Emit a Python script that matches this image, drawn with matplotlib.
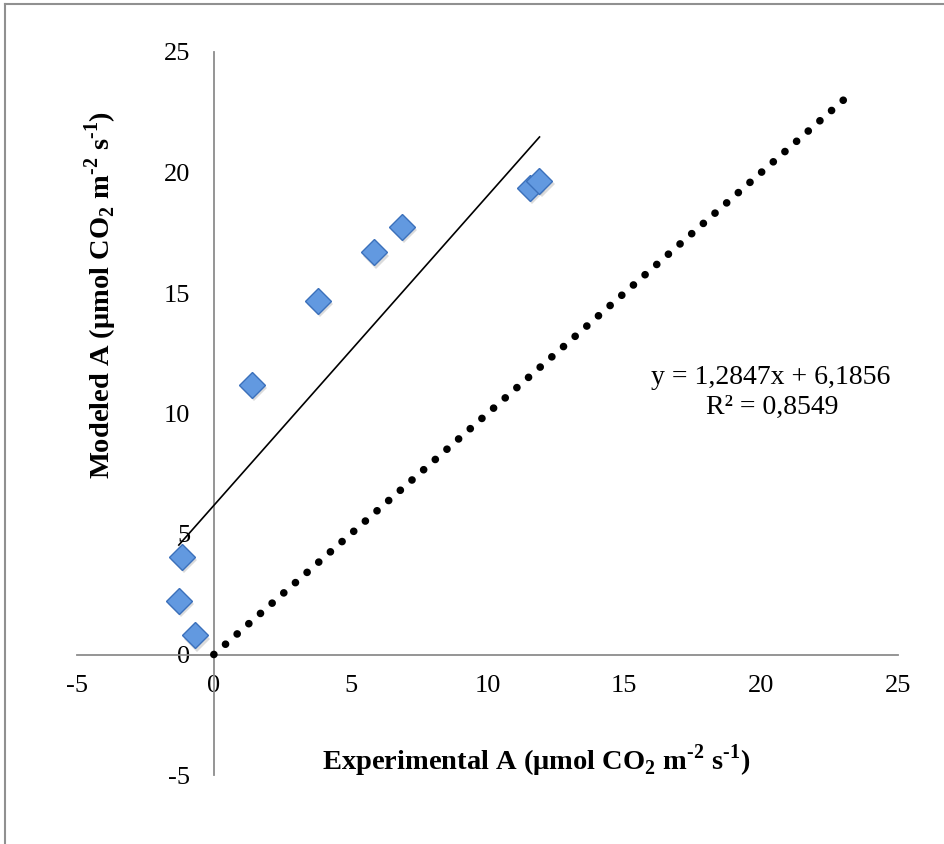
# Modeled vs experimental net assimilation, Excel-style scatter with trend line and 1:1 line

import numpy as np
import matplotlib.pyplot as plt
from matplotlib.lines import Line2D
from matplotlib.transforms import offset_copy

# Data
experimental_a = [-1.17, -1.28, -0.69, 1.39, 3.80, 5.85, 6.87, 11.55, 11.90]
modeled_a = [4.06, 2.24, 0.79, 11.19, 14.68, 16.70, 17.74, 19.36, 19.65]

# Linear fit reported on the chart
slope = 1.2847
intercept = 6.1856
r_squared = 0.8549

# 1:1 reference line ends
one_to_one = [0, 23]

ticks = [-5, 0, 5, 10, 15, 20, 25]

plt.rcParams['font.family'] = ['Liberation Serif', 'DejaVu Serif']
plt.rcParams['mathtext.fontset'] = 'custom'
plt.rcParams['mathtext.rm'] = 'Liberation Serif'
plt.rcParams['mathtext.bf'] = 'Liberation Serif:bold'

W, H = 945, 844
fig = plt.figure(figsize=(W / 100, H / 100), dpi=100)
ax = fig.add_axes([77 / W, (H - 775) / H, (898 - 77) / W, (775 - 52) / H])

axis_grey = '#8c8c8c'

# 1:1 dotted line
ax.plot(one_to_one, one_to_one, color='black', linewidth=5.5,
        linestyle=(0, (0.01, 2.023)), dash_capstyle='round', zorder=5)

# trend line over data range
x_fit = np.array([min(experimental_a), max(experimental_a)])
ax.plot(x_fit, slope * x_fit + intercept, color='black', linewidth=1.2, zorder=3)

# marker shadow + markers
shadow = offset_copy(ax.transData, fig=fig, x=1.5, y=-2.5, units='points')
ax.plot(experimental_a, modeled_a, 'D', markersize=13.5, color='#999999',
        alpha=0.35, markeredgewidth=0, transform=shadow, zorder=3)
ax.plot(experimental_a, modeled_a, 'D', markersize=13.5,
        markerfacecolor='#6299e0', markeredgecolor='#3b70bb',
        markeredgewidth=1.0, linestyle='none', zorder=4)

ax.set_xlim(-5, 25)
ax.set_ylim(-5, 25)

for side in ['top', 'right']:
    ax.spines[side].set_visible(False)
for side in ['left', 'bottom']:
    ax.spines[side].set_position(('data', 0))
    ax.spines[side].set_color(axis_grey)
    ax.spines[side].set_linewidth(1.3)

ax.set_xticks(ticks)
ax.set_yticks(ticks)
ax.set_xticklabels([str(t) for t in ticks])
ax.set_yticklabels([str(t) for t in ticks])
ax.set_xticks([-5, 25], minor=True)
ax.set_yticks([-5, 25], minor=True)
ax.tick_params(axis='x', which='major', length=0, pad=15, labelsize=19)
ax.tick_params(axis='y', which='major', length=0, pad=17, labelsize=19)
ax.tick_params(which='minor', length=6, width=1.3, color=axis_grey, direction='out')

hy = '\u2010'
unit = ('($\\mathbf{\\mu}$mol CO$_\\mathbf{2}$ m$^\\mathbf{' + hy + '2}$ s$^\\mathbf{'
        + hy + '1}$)')
fig.text(536 / W, 1 - 761 / H, 'Experimental A ' + unit,
         ha='center', va='center', fontsize=20.5, fontweight='bold')
fig.text(101 / W, 1 - 295 / H, 'Modeled A ' + unit,
         ha='center', va='center', rotation=90, fontsize=20.5, fontweight='bold')

fig.text(771 / W, 1 - 378 / H, f'y = {slope:.4f}x + {intercept:.4f}'.replace('.', ','),
         ha='center', va='center', fontsize=20)
fig.text(772 / W, 1 - 407 / H, f'R² = {r_squared:.4f}'.replace('.', ','),
         ha='center', va='center', fontsize=20)

# outer chart frame (only left and top edges visible in the crop)
fig.add_artist(Line2D([5 / W, 5 / W], [0, 1 - 4 / H], color='#909090', linewidth=1.5,
                      transform=fig.transFigure))
fig.add_artist(Line2D([5 / W, 1], [1 - 4 / H, 1 - 4 / H], color='#909090', linewidth=1.5,
                      transform=fig.transFigure))

fig.savefig('out.png', dpi=100)
